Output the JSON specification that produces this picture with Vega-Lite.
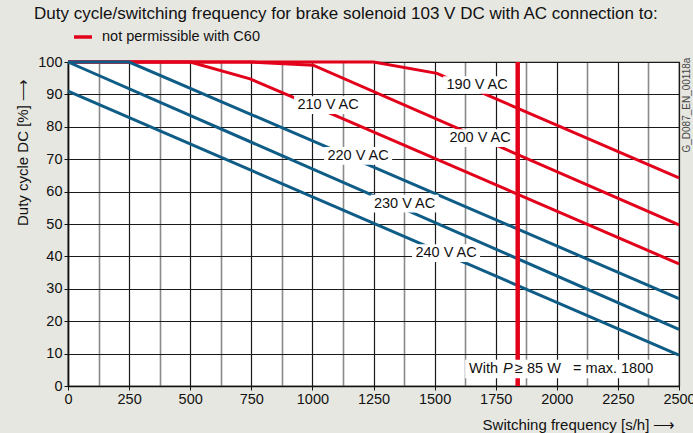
{
  "$schema": "https://vega.github.io/schema/vega-lite/v6.json",
  "width": 611,
  "height": 324,
  "autosize": {"type": "none"},
  "padding": {"left": 68, "top": 62, "right": 14, "bottom": 47},
  "background": "#e7e7e1",
  "config": {
    "font": "Liberation Sans",
    "view": {"fill": "white", "stroke": "#222", "strokeWidth": 1.2}
  },
  "title": {
    "text": "Duty cycle/switching frequency for brake solenoid 103 V DC with AC connection to:",
    "anchor": "start",
    "frame": "group",
    "dx": -34,
    "offset": 3,
    "fontSize": 17,
    "fontWeight": "normal",
    "color": "#111"
  },
  "datasets": {
    "curves": [
      {"series": "190 V AC", "status": "not permissible with C60", "freq": 0, "duty": 100},
      {"series": "190 V AC", "status": "not permissible with C60", "freq": 1250, "duty": 100},
      {"series": "190 V AC", "status": "not permissible with C60", "freq": 1510, "duty": 96.5},
      {"series": "190 V AC", "status": "not permissible with C60", "freq": 2500, "duty": 64.2},
      {"series": "200 V AC", "status": "not permissible with C60", "freq": 0, "duty": 100},
      {"series": "200 V AC", "status": "not permissible with C60", "freq": 745, "duty": 100},
      {"series": "200 V AC", "status": "not permissible with C60", "freq": 1003, "duty": 99},
      {"series": "200 V AC", "status": "not permissible with C60", "freq": 2500, "duty": 49.7},
      {"series": "210 V AC", "status": "not permissible with C60", "freq": 0, "duty": 100},
      {"series": "210 V AC", "status": "not permissible with C60", "freq": 500, "duty": 100},
      {"series": "210 V AC", "status": "not permissible with C60", "freq": 745, "duty": 94.8},
      {"series": "210 V AC", "status": "not permissible with C60", "freq": 915, "duty": 89.3},
      {"series": "210 V AC", "status": "not permissible with C60", "freq": 2500, "duty": 37.7},
      {"series": "220 V AC", "status": "permissible", "freq": 0, "duty": 100},
      {"series": "220 V AC", "status": "permissible", "freq": 250, "duty": 100},
      {"series": "220 V AC", "status": "permissible", "freq": 2500, "duty": 27},
      {"series": "230 V AC", "status": "permissible", "freq": 0, "duty": 100},
      {"series": "230 V AC", "status": "permissible", "freq": 2500, "duty": 17.5},
      {"series": "240 V AC", "status": "permissible", "freq": 0, "duty": 91},
      {"series": "240 V AC", "status": "permissible", "freq": 2500, "duty": 9.5}
    ],
    "labels": [
      {"label": "190 V AC", "freq": 1674, "duty": 92.9},
      {"label": "200 V AC", "freq": 1686, "duty": 76.5},
      {"label": "210 V AC", "freq": 1064, "duty": 86.7},
      {"label": "220 V AC", "freq": 1187, "duty": 71},
      {"label": "230 V AC", "freq": 1377, "duty": 56.3},
      {"label": "240 V AC", "freq": 1547, "duty": 41}
    ],
    "limit": [{"freq": 1840, "duty": 0, "duty_top": 100}],
    "notebox": [{"freq": 1625, "freq_end": 2402, "duty": 2.4, "duty_end": 8.1}],
    "note": [{"freq": 1641, "duty": 5.1}],
    "code": [{"freq": 2531, "duty": 86.7, "text": "G_D087_EN_00118a"}]
  },
  "encoding": {
    "x": {
      "field": "freq", "type": "quantitative",
      "scale": {"domain": [0, 2500], "nice": false, "zero": false},
      "axis": {
        "values": [0,125,250,375,500,625,750,875,1000,1125,1250,1375,1500,1625,1750,1875,2000,2125,2250,2375,2500],
        "labelExpr": "datum.value % 250 === 0 ? datum.label : ''",
        "format": "d",
        "labelFontSize": 14.5,
        "labelColor": "#111",
        "labelFlush": false,
        "labelOverlap": false,
        "labelPadding": 2,
        "grid": true,
        "gridColor": {"condition": {"test": "datum.value % 250 !== 0", "value": "#8a8a8a"}, "value": "#1a1a1a"},
        "gridWidth": {"condition": {"test": "datum.value % 250 !== 0", "value": 1.6}, "value": 1.2},
        "gridOpacity": 1,
        "tickSize": 4,
        "tickColor": "#111",
        "tickOpacity": {"condition": {"test": "datum.value % 250 !== 0", "value": 0}, "value": 1},
        "domainColor": "#111",
        "domainWidth": 1.6,
        "title": "Switching frequency [s/h]  ⟶",
        "titleFontSize": 15,
        "titleFontWeight": "normal",
        "titleColor": "#111",
        "titleX": 607,
        "titleY": 38,
        "titleAlign": "right",
        "titleBaseline": "middle"
      }
    },
    "y": {
      "field": "duty", "type": "quantitative",
      "scale": {"domain": [0, 100], "nice": false},
      "axis": {
        "values": [0,10,20,30,40,50,60,70,80,90,100],
        "labelFontSize": 14.5,
        "labelColor": "#111",
        "labelPadding": 2,
        "labelFlush": false,
        "labelOverlap": false,
        "grid": true,
        "gridColor": "#1a1a1a",
        "gridWidth": 1.2,
        "gridOpacity": 1,
        "tickSize": 4,
        "tickColor": "#111",
        "domainColor": "#111",
        "domainWidth": 1.6,
        "title": "Duty cycle DC [%] ⟶",
        "titleFontSize": 15,
        "titleFontWeight": "normal",
        "titleColor": "#111",
        "titleAngle": 270,
        "titleX": -46,
        "titleY": 90,
        "titleAlign": "center",
        "titleBaseline": "middle"
      }
    }
  },
  "layer": [
    {
      "data": {"name": "curves"},
      "transform": [{"filter": "datum.status !== 'permissible'"}],
      "mark": {"type": "line", "strokeWidth": 3},
      "encoding": {
        "color": {
          "field": "status", "type": "nominal",
          "scale": {"domain": ["not permissible with C60", "permissible"], "range": ["#e2001a", "#0f5d86"]},
          "legend": {
            "values": ["not permissible with C60"],
            "orient": "none",
            "legendX": 4,
            "legendY": -36,
            "title": null,
            "padding": 0,
            "symbolType": "stroke",
            "symbolStrokeWidth": 3.5,
            "symbolSize": 324,
            "labelFontSize": 14.5,
            "labelColor": "#111",
            "labelOffset": 8
          }
        },
        "detail": {"field": "series"}
      }
    },
    {
      "data": {"name": "curves"},
      "transform": [{"filter": "datum.status === 'permissible'"}],
      "mark": {"type": "line", "strokeWidth": 3},
      "encoding": {
        "color": {"field": "status", "type": "nominal"},
        "detail": {"field": "series"}
      }
    },
    {
      "data": {"name": "limit"},
      "mark": {"type": "rule", "color": "#e2001a", "strokeWidth": 4.5},
      "encoding": {
        "y2": {"field": "duty_top"}
      }
    },
    {
      "data": {"name": "labels"},
      "mark": {"type": "point", "shape": "M-1,-0.26H1V0.26H-1Z", "filled": true, "color": "white", "opacity": 1, "size": 4624}
    },
    {
      "data": {"name": "labels"},
      "mark": {"type": "text", "fontSize": 14.5, "color": "#111", "align": "center", "baseline": "middle"},
      "encoding": {
        "text": {"field": "label"}
      }
    },
    {
      "data": {"name": "notebox"},
      "mark": {"type": "rect", "color": "white", "opacity": 1},
      "encoding": {
        "x2": {"field": "freq_end"},
        "y2": {"field": "duty_end"}
      }
    },
    {
      "data": {"name": "note"},
      "mark": {"type": "text", "text": "With", "fontSize": 14.5, "color": "#111", "align": "left", "baseline": "middle"}
    },
    {
      "data": {"name": "note"},
      "mark": {"type": "text", "text": "P", "fontStyle": "italic", "dx": 34, "fontSize": 14.5, "color": "#111", "align": "left", "baseline": "middle"}
    },
    {
      "data": {"name": "note"},
      "mark": {"type": "text", "text": "≥ 85 W", "dx": 46, "fontSize": 14.5, "color": "#111", "align": "left", "baseline": "middle"}
    },
    {
      "data": {"name": "note"},
      "mark": {"type": "text", "text": "= max. 1800", "dx": 104, "fontSize": 14.5, "color": "#111", "align": "left", "baseline": "middle"}
    },
    {
      "data": {"name": "code"},
      "mark": {"type": "text", "angle": 270, "fontSize": 10, "color": "#444", "align": "center", "baseline": "middle"},
      "encoding": {
        "text": {"field": "text"}
      }
    }
  ]
}
